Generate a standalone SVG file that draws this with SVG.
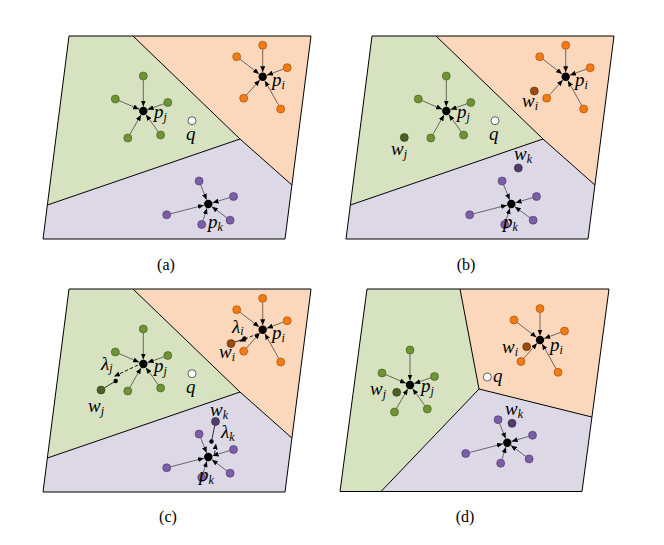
<svg xmlns="http://www.w3.org/2000/svg" width="664" height="545" viewBox="0 0 664 545">
<style>
.lbl{font-family:"Liberation Serif","DejaVu Serif",serif;font-style:italic;font-size:19px;fill:#000}
.sub{font-size:12px}
.cap{font-family:"Liberation Serif","DejaVu Serif",serif;font-size:16px;text-anchor:middle;fill:#000}
.e{stroke:#333;stroke-width:0.7;fill:none;marker-end:url(#ah)}
.bd{stroke:#000;stroke-width:1;fill:none;stroke-linejoin:round}
.rg{fill:#d7e2c0}.ro{fill:#fbd7bb}.rp{fill:#ddd8e5}
.ng{fill:#6f9434;stroke:#3d5718;stroke-width:0.6}
.no{fill:#f27b16;stroke:#9a4800;stroke-width:0.6}
.np{fill:#7c5ea4;stroke:#46306a;stroke-width:0.6}
.c{fill:#000}
.wj{fill:#4b6125;stroke:#2c3a12;stroke-width:0.6}
.wi{fill:#9a4a12;stroke:#5a2a06;stroke-width:0.6}
.wk{fill:#4f3d6e;stroke:#2c2040;stroke-width:0.6}
.q{fill:#fff;stroke:#000;stroke-width:0.6}
.dl{stroke:#000;stroke-width:0.9;fill:none;stroke-dasharray:3.5 2;marker-end:url(#ah)}
.sl{stroke:#000;stroke-width:0.8;fill:none}
</style>
<defs>
<marker id="ah" viewBox="0 0 6 5" refX="6" refY="2.5" markerWidth="6" markerHeight="5" markerUnits="userSpaceOnUse" orient="auto"><path d="M0,0 L6,2.5 L0,5 z" fill="#000"/></marker>
<g id="part-abc">
<polygon class="rg" points="69,36 133,36 240,139 47.4,205"/>
<polygon class="ro" points="133,36 311,36 291.9,185 240,139"/>
<polygon class="rp" points="47.4,205 240,139 291.9,185 285,239 43,239"/>
<polyline class="bd" points="133,36 240,139 291.9,185"/>
<polyline class="bd" points="47.4,205 240,139"/>
<polygon class="bd" points="69,36 311,36 285,239 43,239"/>
</g>
<g id="star-j">
<line class="e" x1="0" y1="-31" x2="0" y2="-4.5"/>
<line class="e" x1="-24.32" y1="-10.42" x2="-4.14" y2="-1.77"/>
<line class="e" x1="20.72" y1="-7.19" x2="4.25" y2="-1.48"/>
<line class="e" x1="-13.51" y1="23.53" x2="-2.24" y2="3.9"/>
<line class="e" x1="14.96" y1="20.76" x2="2.63" y2="3.65"/>
<circle class="ng" cx="0" cy="-35" r="4"/>
<circle class="ng" cx="-28" cy="-12" r="4"/>
<circle class="ng" cx="24.5" cy="-8.5" r="4"/>
<circle class="ng" cx="-15.5" cy="27" r="4"/>
<circle class="ng" cx="17.3" cy="24" r="4"/>
<circle class="c" cx="0" cy="0" r="4.2"/>
</g>
<g id="star-i">
<line class="e" x1="0" y1="-27.4" x2="0" y2="-4.5"/>
<line class="e" x1="-22.83" y1="-17.56" x2="-3.57" y2="-2.74"/>
<line class="e" x1="20.75" y1="-7.62" x2="4.22" y2="-1.55"/>
<line class="e" x1="-16.35" y1="18.5" x2="-2.98" y2="3.37"/>
<line class="e" x1="16.05" y1="28.81" x2="2.19" y2="3.93"/>
<circle class="no" cx="0" cy="-31.4" r="4"/>
<circle class="no" cx="-26" cy="-20" r="4"/>
<circle class="no" cx="24.5" cy="-9" r="4"/>
<circle class="no" cx="-19" cy="21.5" r="4"/>
<circle class="no" cx="18" cy="32.3" r="4"/>
<circle class="c" cx="0" cy="0" r="4.2"/>
</g>
<g id="star-k">
<line class="e" x1="-7.71" y1="-19.29" x2="-1.67" y2="-4.18"/>
<line class="e" x1="21.37" y1="-6.36" x2="4.31" y2="-1.28"/>
<line class="e" x1="-37.73" y1="9.8" x2="-4.36" y2="1.13"/>
<line class="e" x1="-5.37" y1="16.69" x2="-1.38" y2="4.28"/>
<line class="e" x1="18.59" y1="13.81" x2="3.61" y2="2.68"/>
<circle class="np" cx="-9.2" cy="-23" r="4"/>
<circle class="np" cx="25.2" cy="-7.5" r="4"/>
<circle class="np" cx="-41.6" cy="10.8" r="4"/>
<circle class="np" cx="-6.6" cy="20.5" r="4"/>
<circle class="np" cx="21.8" cy="16.2" r="4"/>
<circle class="c" cx="0" cy="0" r="4.2"/>
</g>
</defs>

<!-- Panel (a) -->
<g id="panel-a">
<use href="#part-abc"/>
<g id="a-pj"><use href="#star-j" x="143.3" y="111"/><text class="lbl" x="154" y="118">p<tspan class="sub" dy="3">j</tspan></text></g>
<g id="a-pi"><use href="#star-i" x="262.7" y="76.7"/><text class="lbl" x="272" y="86">p<tspan class="sub" dy="3">i</tspan></text></g>
<g id="a-pk"><use href="#star-k" x="208.3" y="204"/><text class="lbl" x="208" y="228">p<tspan class="sub" dy="3">k</tspan></text></g>
<g id="a-q"><circle class="q" cx="192" cy="120.7" r="4"/><text class="lbl" x="186" y="140">q</text></g>
</g>

<!-- Panel (b) -->
<g id="panel-b" transform="translate(303,0)">
<use href="#part-abc"/>
<g id="b-pj"><use href="#star-j" x="143.3" y="111"/><text class="lbl" x="154" y="118">p<tspan class="sub" dy="3">j</tspan></text></g>
<g id="b-pi"><use href="#star-i" x="262.7" y="76.7"/><text class="lbl" x="272" y="86">p<tspan class="sub" dy="3">i</tspan></text></g>
<g id="b-pk"><use href="#star-k" x="208.3" y="204"/><text class="lbl" x="200" y="228">p<tspan class="sub" dy="3">k</tspan></text></g>
<g id="b-q"><circle class="q" cx="192" cy="120.7" r="4"/><text class="lbl" x="186" y="140">q</text></g>
<g id="b-wj"><circle class="wj" cx="101.3" cy="137.5" r="4"/><text class="lbl" x="88" y="155">w<tspan class="sub" dy="3">j</tspan></text></g>
<g id="b-wi"><circle class="wi" cx="231.3" cy="91" r="4"/><text class="lbl" x="219" y="107">w<tspan class="sub" dy="3">i</tspan></text></g>
<g id="b-wk"><circle class="wk" cx="215.3" cy="168" r="4"/><text class="lbl" x="211" y="160">w<tspan class="sub" dy="3">k</tspan></text></g>
</g>

<!-- Panel (c) -->
<g id="panel-c" transform="translate(0,253)">
<use href="#part-abc"/>
<g id="c-connectors">
<line class="sl" x1="104.4" y1="134.9" x2="115.7" y2="128"/>
<line class="dl" x1="138" y1="112" x2="114" y2="123.5"/>
<line class="sl" x1="234.8" y1="89.1" x2="244.5" y2="85.5"/>
<line class="dl" x1="258" y1="80.5" x2="239.5" y2="88.5"/>
<line class="sl" x1="214.8" y1="172" x2="211.5" y2="188.5"/>
<line class="dl" x1="214.5" y1="201" x2="216" y2="190.5"/>
</g>
<g id="c-pj"><use href="#star-j" x="143.3" y="111"/><text class="lbl" x="154" y="119">p<tspan class="sub" dy="3">j</tspan></text></g>
<g id="c-pi"><use href="#star-i" x="262.7" y="76.7"/><text class="lbl" x="272" y="86">p<tspan class="sub" dy="3">i</tspan></text></g>
<g id="c-pk"><use href="#star-k" x="208.3" y="204"/><text class="lbl" x="199" y="228">p<tspan class="sub" dy="3">k</tspan></text></g>
<g id="c-q"><circle class="q" cx="192" cy="120.7" r="4"/><text class="lbl" x="186" y="140">q</text></g>
<g id="c-wj"><circle class="wj" cx="101" cy="137" r="4"/><circle class="c" cx="115.7" cy="128" r="2.2"/><text class="lbl" x="88" y="159">w<tspan class="sub" dy="3">j</tspan></text><text class="lbl" x="101" y="117">λ<tspan class="sub" dy="2">j</tspan></text></g>
<g id="c-wi"><circle class="wi" cx="231" cy="90.5" r="4"/><circle class="c" cx="244.5" cy="85.5" r="2.2"/><text class="lbl" x="219" y="105">w<tspan class="sub" dy="3">i</tspan></text><text class="lbl" x="232" y="80">λ<tspan class="sub" dy="2">i</tspan></text></g>
<g id="c-wk"><circle class="wk" cx="215.5" cy="168.5" r="4"/><circle class="c" cx="211.5" cy="188.5" r="2.2"/><text class="lbl" x="210" y="163">w<tspan class="sub" dy="3">k</tspan></text><text class="lbl" x="221" y="185">λ<tspan class="sub" dy="3">k</tspan></text></g>
</g>

<!-- Panel (d) -->
<g id="panel-d">
<polygon class="rg" points="367,289 460,289 479,389 381,491.5 340,491.5"/>
<polygon class="ro" points="460,289 609,289 591.9,417 479,389"/>
<polygon class="rp" points="479,389 591.9,417 582,491.5 381,491.5"/>
<polyline class="bd" points="460,289 479,389 591.9,417"/>
<polyline class="bd" points="479,389 381,491.5"/>
<polygon class="bd" points="367,289 609,289 582,491.5 340,491.5"/>
<g id="d-pj"><use href="#star-j" x="410" y="385"/><text class="lbl" x="421" y="392">p<tspan class="sub" dy="3">j</tspan></text></g>
<g id="d-pi"><use href="#star-i" x="540" y="340"/><text class="lbl" x="550" y="351">p<tspan class="sub" dy="3">i</tspan></text></g>
<g id="d-pk"><use href="#star-k" x="507.3" y="442.7"/></g>
<g id="d-q"><circle class="q" cx="487.3" cy="377" r="4"/><text class="lbl" x="493" y="382">q</text></g>
<g id="d-wj"><circle class="wj" cx="396.7" cy="392.3" r="4"/><text class="lbl" x="370" y="395">w<tspan class="sub" dy="3">j</tspan></text></g>
<g id="d-wi"><circle class="wi" cx="526.7" cy="346.7" r="4"/><text class="lbl" x="502" y="353">w<tspan class="sub" dy="3">i</tspan></text></g>
<g id="d-wk"><circle class="wk" cx="512" cy="423.3" r="4"/><text class="lbl" x="505" y="415">w<tspan class="sub" dy="3">k</tspan></text></g>
</g>

<g id="captions">
<text class="cap" x="166" y="270">(a)</text>
<text class="cap" x="466" y="270">(b)</text>
<text class="cap" x="168" y="522">(c)</text>
<text class="cap" x="465" y="522">(d)</text>
</g>
</svg>
